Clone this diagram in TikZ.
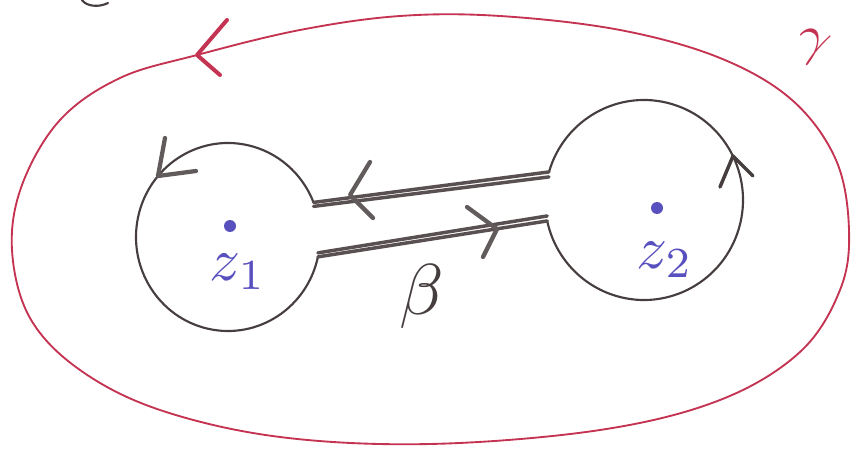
\documentclass[tikz,border=0pt]{standalone}
\usepackage{amsmath}
\usetikzlibrary{calc}
\definecolor{pen}{RGB}{70,62,62}
\definecolor{redpen}{RGB}{196,52,82}
\definecolor{bluepen}{RGB}{88,80,190}
\tikzset{
  pencil/.style={draw=pen, line width=1.6pt, line cap=round, line join=round},
  keyline/.style={draw=pen!90, line width=2.6pt, line cap=round},
  chev/.style={draw=pen!85, line width=3.2pt, line cap=round, line join=round},
  redline/.style={draw=redpen, line width=1.4pt, line cap=round, line join=round},
  bluelabel/.style={text=bluepen, inner sep=0pt, scale=4.6},
}
\begin{document}
\begin{tikzpicture}[x=0.75pt,y=-0.75pt]
\useasboundingbox (0,0) rectangle (853,456);
% outer red contour gamma
\draw[redline] plot[smooth cycle, tension=0.6] coordinates {
 (197,55) (120,78) (60,120) (22,185) (12,250) (30,318) (80,370) (160,410)
 (280,437) (430,444) (600,430) (720,400) (800,352) (840,290) (849,230)
 (836,160) (792,100) (720,58) (620,30) (500,16) (400,16) (300,30) };
\draw[redline, line width=3pt] (227,20) -- (197,55) -- (220,75);
\node[text=redpen, inner sep=0pt, scale=4.2, rotate=-20] (gam) at (812,48) {$\gamma$};
% partial mark top left
\draw[pencil] (82,0) .. controls (86,6) and (98,8) .. (108,3);
% left circle
\coordinate (Lc) at (228,237);
\coordinate (L1) at ($(Lc)+(-21.6:92 and 94)$);
\coordinate (L2) at ($(Lc)+(12.2:92 and 94)$);
\draw[pencil] (L2) arc[start angle=12.2, end angle=338.4, x radius=92, y radius=94];
\draw[chev] (165,138) -- (158,176) -- (196,171);
% right circle
\coordinate (Rc) at (644,200);
\coordinate (R1) at ($(Rc)+(196.3:99 and 100)$);
\coordinate (R2) at ($(Rc)+(167.9:99 and 100)$);
\draw[pencil] (R1) arc[start angle=196.3, end angle=527.9, x radius=99, y radius=100];
\draw[pencil, line width=2.6pt] (720,187) -- (733,156) -- (753,176);
% keyhole connectors beta
\draw[keyline] (R1) -- (L1);
\draw[keyline] ($(R1)+(0,5)$) -- ($(L1)+(0,4)$);
\draw[keyline] (L2) -- (R2);
\draw[keyline] ($(L2)+(0,-4)$) -- ($(R2)+(0,-5)$);
\draw[chev] (370,162) -- (350,195) -- (373,218);
\draw[chev] (467,207) -- (497,229) -- (483,257);
\node[text=pen, inner sep=0pt, scale=5.4] (beta) at (422,296) {$\beta$};
% points
\fill[bluepen] (230,226) circle (6);
\node[bluelabel] (z1) at (238,272) {$z_1$};
\fill[bluepen] (657,208) circle (6);
\node[bluelabel] (z2) at (665,260) {$z_2$};
\end{tikzpicture}
\end{document}
